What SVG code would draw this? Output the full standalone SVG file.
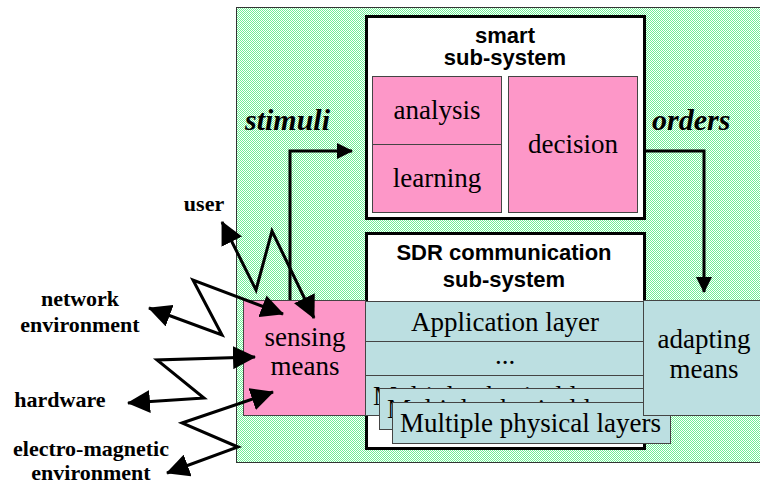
<svg xmlns="http://www.w3.org/2000/svg" width="760" height="484" viewBox="0 0 760 484">
<style>
.title{font-family:"Liberation Sans",Arial,sans-serif;font-weight:bold;font-size:22px;fill:#000;text-anchor:middle}
.serif{font-family:"Liberation Serif","Times New Roman",serif;font-size:27px;fill:#000;text-anchor:middle}
.lbl{font-family:"Liberation Serif","Times New Roman",serif;font-weight:bold;font-size:22px;fill:#000;text-anchor:middle}
.flow{font-family:"Liberation Serif","Times New Roman",serif;font-weight:bold;font-style:italic;font-size:30px;fill:#000}
.pink{fill:#fd97c8;stroke:#444;stroke-width:1}
.teal{fill:#bcdfe1;stroke:#444;stroke-width:1}
.frame{fill:#fff;stroke:#000;stroke-width:3}
.conn{fill:none;stroke:#000;stroke-width:3;stroke-linejoin:miter}
</style>
<defs>
<pattern id="chk" width="2" height="2" patternUnits="userSpaceOnUse">
<rect width="2" height="2" fill="#fff"/>
<rect width="1" height="1" fill="#6ff096"/>
<rect x="1" y="1" width="1" height="1" fill="#6ff096"/>
</pattern>
<marker id="big" markerUnits="userSpaceOnUse" viewBox="0 0 23 23" markerWidth="23" markerHeight="23" refX="22" refY="11.5" orient="auto-start-reverse">
<path d="M0,0 L23,11.5 L0,23 z" fill="#000"/>
</marker>
<marker id="small" markerUnits="userSpaceOnUse" viewBox="0 0 16 16" markerWidth="16" markerHeight="16" refX="15" refY="8" orient="auto">
<path d="M0,0 L16,8 L0,16 z" fill="#000"/>
</marker>
</defs>

<g id="background">
<rect x="236.5" y="7.5" width="540" height="455" fill="url(#chk)" stroke="#333" stroke-width="1"/>
</g>

<g id="smart-subsystem">
<rect class="frame" x="366.5" y="16.5" width="278" height="202"/>
<text class="title" x="505" y="43">smart</text>
<text class="title" x="505" y="65">sub-system</text>
</g>
<g id="analysis">
<rect class="pink" x="372.5" y="76.5" width="129" height="68"/>
<text class="serif" x="437" y="119">analysis</text>
</g>
<g id="learning">
<rect class="pink" x="372.5" y="144.5" width="129" height="68"/>
<text class="serif" x="437" y="187">learning</text>
</g>
<g id="decision">
<rect class="pink" x="508.5" y="76.5" width="129" height="136"/>
<text class="serif" x="573" y="153">decision</text>
</g>

<g id="sdr-subsystem">
<rect class="frame" x="366.5" y="233.5" width="278" height="215"/>
<text class="title" x="504" y="260">SDR communication</text>
<text class="title" x="504" y="287">sub-system</text>
</g>
<g id="application-layer">
<rect class="teal" x="365.5" y="301.5" width="278" height="40"/>
<text class="serif" x="505" y="331">Application layer</text>
</g>
<g id="middle-layers">
<rect class="teal" x="365.5" y="341.5" width="278" height="34"/>
<text class="serif" x="505" y="364">...</text>
</g>
<g id="physical-layers">
<rect class="teal" x="365.5" y="375.5" width="278" height="40"/>
<text class="serif" x="373" y="405" style="text-anchor:start">Multiple physical layers</text>
<rect class="teal" x="379.5" y="388.5" width="278" height="41"/>
<text class="serif" x="387" y="418" style="text-anchor:start">Multiple physical layers</text>
<rect class="teal" x="392.5" y="402.5" width="278" height="41"/>
<text class="serif" x="400" y="432" style="text-anchor:start">Multiple physical layers</text>
</g>

<g id="sensing-means">
<rect class="pink" x="243.5" y="300.5" width="122" height="115"/>
<text class="serif" x="305" y="346">sensing</text>
<text class="serif" x="305" y="375">means</text>
</g>
<g id="adapting-means">
<rect class="teal" x="643.5" y="300.5" width="130" height="115"/>
<text class="serif" x="704" y="348">adapting</text>
<text class="serif" x="704" y="378">means</text>
</g>

<g id="labels">
<text class="flow" x="245" y="130">stimuli</text>
<text class="flow" x="652" y="130">orders</text>
<text class="lbl" x="204" y="211">user</text>
<text class="lbl" x="80" y="306">network</text>
<text class="lbl" x="80" y="332">environment</text>
<text class="lbl" x="60" y="407">hardware</text>
<text class="lbl" x="91" y="456">electro-magnetic</text>
<text class="lbl" x="91" y="480">environment</text>
</g>

<g id="connectors">
<path class="conn" d="M290,300 L290,151 L352,151" marker-end="url(#small)"/>
<path class="conn" d="M645,151 L704,151 L704,292" marker-end="url(#small)"/>
<path class="conn" d="M222,222 L256,290 L272,231 L314,318" marker-start="url(#big)" marker-end="url(#big)"/>
<path class="conn" d="M149,308 L222,335 L193,280 L283,314" marker-start="url(#big)" marker-end="url(#big)"/>
<path class="conn" d="M128,403 L204,398 L157,360 L255,357" marker-start="url(#big)" marker-end="url(#big)"/>
<path class="conn" d="M167,473 L238,447 L182,423 L273,392" marker-start="url(#big)" marker-end="url(#big)"/>
</g>
</svg>
